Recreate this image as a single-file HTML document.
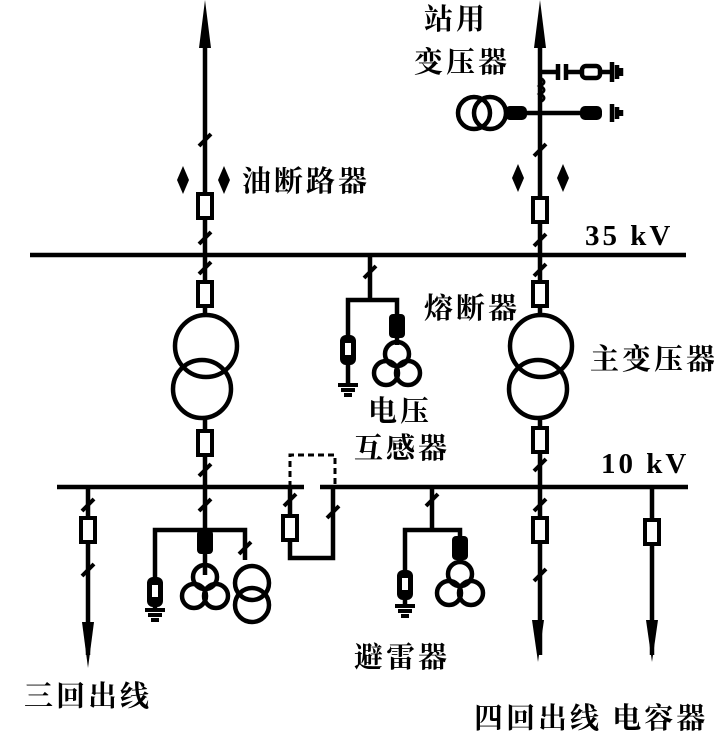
<!DOCTYPE html>
<html><head><meta charset="utf-8"><style>
html,body{margin:0;padding:0;background:#fff}
svg{display:block}
text{font-family:"Liberation Serif","Noto Serif CJK SC","Noto Sans CJK SC",serif;font-weight:bold;fill:#000;font-size:29px;letter-spacing:3px}
</style></head><body>
<svg width="714" height="731" viewBox="0 0 714 731" xmlns="http://www.w3.org/2000/svg">
<defs>
<g id="sl"><path d="M-6,6 L6,-6" stroke="#000" stroke-width="4"/></g>
<g id="bk"><rect x="-7" y="-12" width="14" height="24" fill="#fff" stroke="#000" stroke-width="4"/></g>
<g id="bf"><rect x="-8" y="-12" width="16" height="24" rx="4" fill="#000"/></g>
<g id="gnd"><path d="M-10,0 H10 M-7,5 H7 M-4,10 H4" stroke="#000" stroke-width="4"/></g>
<g id="arr"><rect x="-8" y="-15" width="16" height="30" rx="6" fill="#000"/><rect x="-3" y="-7" width="6" height="12" fill="#fff"/></g>
<g id="dia"><path d="M0,-14 L6,0 L0,14 L-6,0 Z" fill="#000"/></g>
<g id="pt3"><circle cx="0" cy="-11" r="12" fill="none" stroke="#000" stroke-width="4.5"/><circle cx="-11" cy="8" r="12" fill="none" stroke="#000" stroke-width="4.5"/><circle cx="11" cy="8" r="12" fill="none" stroke="#000" stroke-width="4.5"/></g>
</defs>
<g stroke="#000" stroke-width="4.5" fill="none">
<line x1="30" y1="255" x2="686" y2="255"/>
<line x1="57" y1="487" x2="304" y2="487"/>
<line x1="320" y1="487" x2="688" y2="487"/>
<line x1="205" y1="40" x2="205" y2="282"/>
<line x1="205" y1="306" x2="205" y2="315"/>
<line x1="205" y1="418" x2="205" y2="530"/>
<circle cx="206" cy="346" r="31"/>
<circle cx="202" cy="389" r="29"/>
<line x1="540" y1="40" x2="540" y2="282"/>
<line x1="540" y1="306" x2="540" y2="315"/>
<line x1="540" y1="418" x2="540" y2="655"/>
<circle cx="541" cy="346" r="31"/>
<circle cx="538" cy="389" r="29"/>
<line x1="505" y1="113" x2="600" y2="113"/>
<circle cx="474" cy="113" r="16"/>
<circle cx="490" cy="113" r="16"/>
<path d="M540,72 H558 M558,64 V80 M566,64 V80 M566,72 H582"/>
<rect x="582" y="66" width="18" height="12" rx="4"/>
<path d="M600,72 H612 M612,62 V82 M617,65 V79 M621,68 V76"/>
<path d="M540,78 q8,4 0,8 q8,4 0,8 q8,4 0,8" stroke-width="3"/>
<path d="M612,104 V122 M617,107 V119 M621,110 V116"/>
<line x1="370" y1="255" x2="370" y2="300"/>
<path d="M348,340 V300 H397 V345"/>
<line x1="348" y1="360" x2="348" y2="385"/>
<line x1="88" y1="487" x2="88" y2="655"/>
<line x1="652" y1="487" x2="652" y2="655"/>
<path d="M290,487 V455 H335 V487" stroke-dasharray="6,4" stroke-width="3"/>
<path d="M290,487 V558 H333 V487"/>
<path d="M155,580 V530 H245 V560"/>
<line x1="155" y1="598" x2="155" y2="612"/>
<line x1="205" y1="530" x2="205" y2="575"/>
<circle cx="252" cy="583" r="17"/>
<circle cx="252" cy="605" r="17"/>
<path d="M405,575 V530 H460 V560"/>
<line x1="432" y1="487" x2="432" y2="530"/>
<line x1="405" y1="595" x2="405" y2="608"/>
</g>
<path d="M205,0 L211,48 L199,48 Z"/>
<path d="M540,0 L546,48 L534,48 Z"/>
<path d="M88,668 L82,622 L94,622 Z"/>
<path d="M538,662 L532,620 L544,620 Z"/>
<path d="M652,662 L646,620 L658,620 Z"/>
<use href="#sl" x="205" y="140"/><use href="#sl" x="205" y="238"/><use href="#sl" x="205" y="268"/><use href="#sl" x="205" y="470"/><use href="#sl" x="205" y="505"/>
<use href="#sl" x="540" y="150"/><use href="#sl" x="540" y="240"/><use href="#sl" x="540" y="270"/><use href="#sl" x="540" y="465"/><use href="#sl" x="540" y="505"/><use href="#sl" x="540" y="575"/>
<use href="#sl" x="370" y="272"/><use href="#sl" x="88" y="505"/><use href="#sl" x="88" y="570"/>
<use href="#sl" x="290" y="500"/><use href="#sl" x="333" y="512"/><use href="#sl" x="432" y="500"/><use href="#sl" x="245" y="548"/>
<use href="#bk" x="205" y="206"/><use href="#bk" x="205" y="294"/><use href="#bk" x="205" y="443"/>
<use href="#bk" x="540" y="210"/><use href="#bk" x="540" y="294"/><use href="#bk" x="540" y="440"/><use href="#bk" x="540" y="530"/>
<use href="#bk" x="88" y="530"/><use href="#bk" x="652" y="532"/><use href="#bk" x="290" y="528"/>
<use href="#bf" x="397" y="326"/><use href="#bf" x="205" y="542"/><use href="#bf" x="460" y="548"/>
<rect x="505" y="106" width="22" height="14" rx="5"/><rect x="580" y="106" width="22" height="14" rx="5"/>
<use href="#arr" x="348" y="350"/><use href="#gnd" x="348" y="385"/>
<use href="#arr" x="155" y="592"/><use href="#gnd" x="155" y="610"/>
<use href="#arr" x="405" y="585"/><use href="#gnd" x="405" y="606"/>
<use href="#pt3" x="397" y="365"/><use href="#pt3" x="205" y="588"/><use href="#pt3" x="460" y="585"/>
<use href="#dia" x="183" y="180"/><use href="#dia" x="224" y="180"/>
<use href="#dia" x="518" y="178"/><use href="#dia" x="563" y="178"/>
<text x="242" y="191">油断路器</text>
<text x="424" y="29">站用</text>
<text x="414" y="72">变压器</text>
<text x="585" y="245" letter-spacing="1">35 kV</text>
<text x="424" y="318">熔断器</text>
<text x="590" y="369">主变压器</text>
<text x="368" y="421">电压</text>
<text x="354" y="458">互感器</text>
<text x="601" y="473" letter-spacing="1">10 kV</text>
<text x="354" y="667">避雷器</text>
<text x="24" y="706">三回出线</text>
<text x="474" y="728">四回出线 电容器</text>
</svg>
</body></html>
